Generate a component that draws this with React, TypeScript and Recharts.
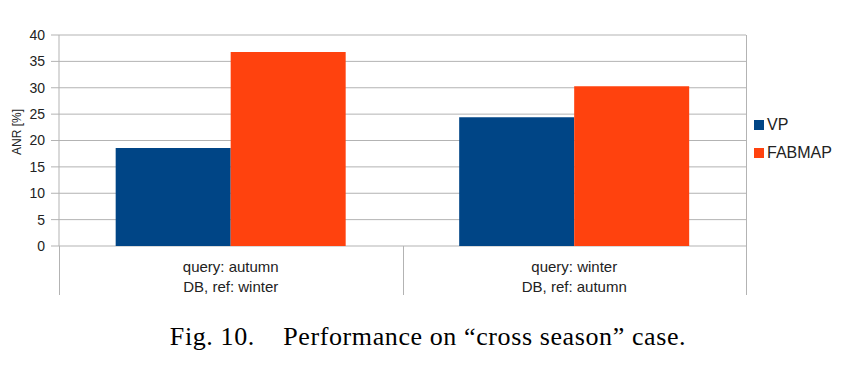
import { BarChart, Bar, XAxis, YAxis, CartesianGrid } from "recharts";

const queryLabels = ["query: autumn", "query: winter"];
const dbLabels = ["DB, ref: winter", "DB, ref: autumn"];
const seriesNames = ["VP", "FABMAP"];
const seriesColors = ["#004586", "#ff420e"];
const vpValues = [18.6, 24.4];
const fabmapValues = [36.8, 30.3];
const yTicks = [0, 5, 10, 15, 20, 25, 30, 35, 40];

const data = queryLabels.map((q, i) => ({
  query: q,
  db: dbLabels[i],
  VP: vpValues[i],
  FABMAP: fabmapValues[i],
}));

const GRID = "#b3b3b3";
const FONT = "'Liberation Sans', Arial, sans-serif";
const Y_TICK = { fill: "#222", fontSize: 14, fontFamily: FONT };
const X_TICK = { fill: "#222", fontSize: 15, fontFamily: FONT };

// plot frame (chart margins below)
const PLOT_L = 59;
const PLOT_R = 746;
const PLOT_T = 35;
const PLOT_B = 246;
const AXIS_B = 295;

const vline = (x: number, y1: number, y2: number) => (
  <div style={{ position: "absolute", left: x, top: y1, width: 1, height: y2 - y1, background: GRID }} />
);

export default function App() {
  return (
    <div style={{ position: "absolute", left: 0, top: 0, width: 860, height: 366, background: "#fff" }}>
      <BarChart
        width={860}
        height={301}
        data={data}
        margin={{ top: PLOT_T, right: 860 - PLOT_R, bottom: 5, left: 0 }}
        barCategoryGap="16.5%"
        barGap={0}
      >
        <CartesianGrid vertical={false} stroke={GRID} />
        <XAxis
          dataKey="query"
          height={26}
          axisLine={false}
          tickLine={false}
          tickSize={0}
          tickMargin={15}
          interval={0}
          tick={X_TICK}
        />
        <XAxis
          xAxisId="db"
          dataKey="db"
          height={24}
          axisLine={false}
          tickLine={false}
          tickSize={0}
          tickMargin={9}
          interval={0}
          tick={X_TICK}
        />
        <YAxis
          domain={[0, 40]}
          ticks={yTicks}
          width={PLOT_L}
          tickSize={8}
          tickMargin={6}
          stroke={GRID}
          tick={Y_TICK}
        />
        <Bar dataKey="VP" fill={seriesColors[0]} isAnimationActive={false} />
        <Bar dataKey="FABMAP" fill={seriesColors[1]} isAnimationActive={false} />
      </BarChart>

      {vline(PLOT_L, PLOT_B, AXIS_B)}
      {vline(Math.round((PLOT_L + PLOT_R) / 2), PLOT_B, AXIS_B)}
      {vline(PLOT_R, PLOT_T, AXIS_B)}

      <div
        style={{
          position: "absolute",
          left: 17 - 40,
          top: 132 - 8,
          width: 80,
          height: 16,
          lineHeight: "16px",
          textAlign: "center",
          transform: "rotate(-90deg)",
          fontFamily: FONT,
          fontSize: 12,
          color: "#222",
        }}
      >
        ANR [%]
      </div>

      <div style={{ position: "absolute", left: 754, top: 111, fontFamily: FONT, fontSize: 16, color: "#222" }}>
        {seriesNames.map((n, i) => (
          <div key={n} style={{ display: "flex", alignItems: "center", height: 28 }}>
            <span style={{ width: 10, height: 10, background: seriesColors[i], marginRight: 3 }} />
            {n}
          </div>
        ))}
      </div>

      <div
        style={{
          position: "absolute",
          left: 0,
          width: 856,
          top: 322,
          textAlign: "center",
          fontFamily: "'Liberation Serif', 'Times New Roman', serif",
          fontSize: 26,
          letterSpacing: 0.6,
          whiteSpace: "pre",
          color: "#000",
        }}
      >
        {"Fig. 10.    Performance on \u201ccross season\u201d case."}
      </div>
    </div>
  );
}
